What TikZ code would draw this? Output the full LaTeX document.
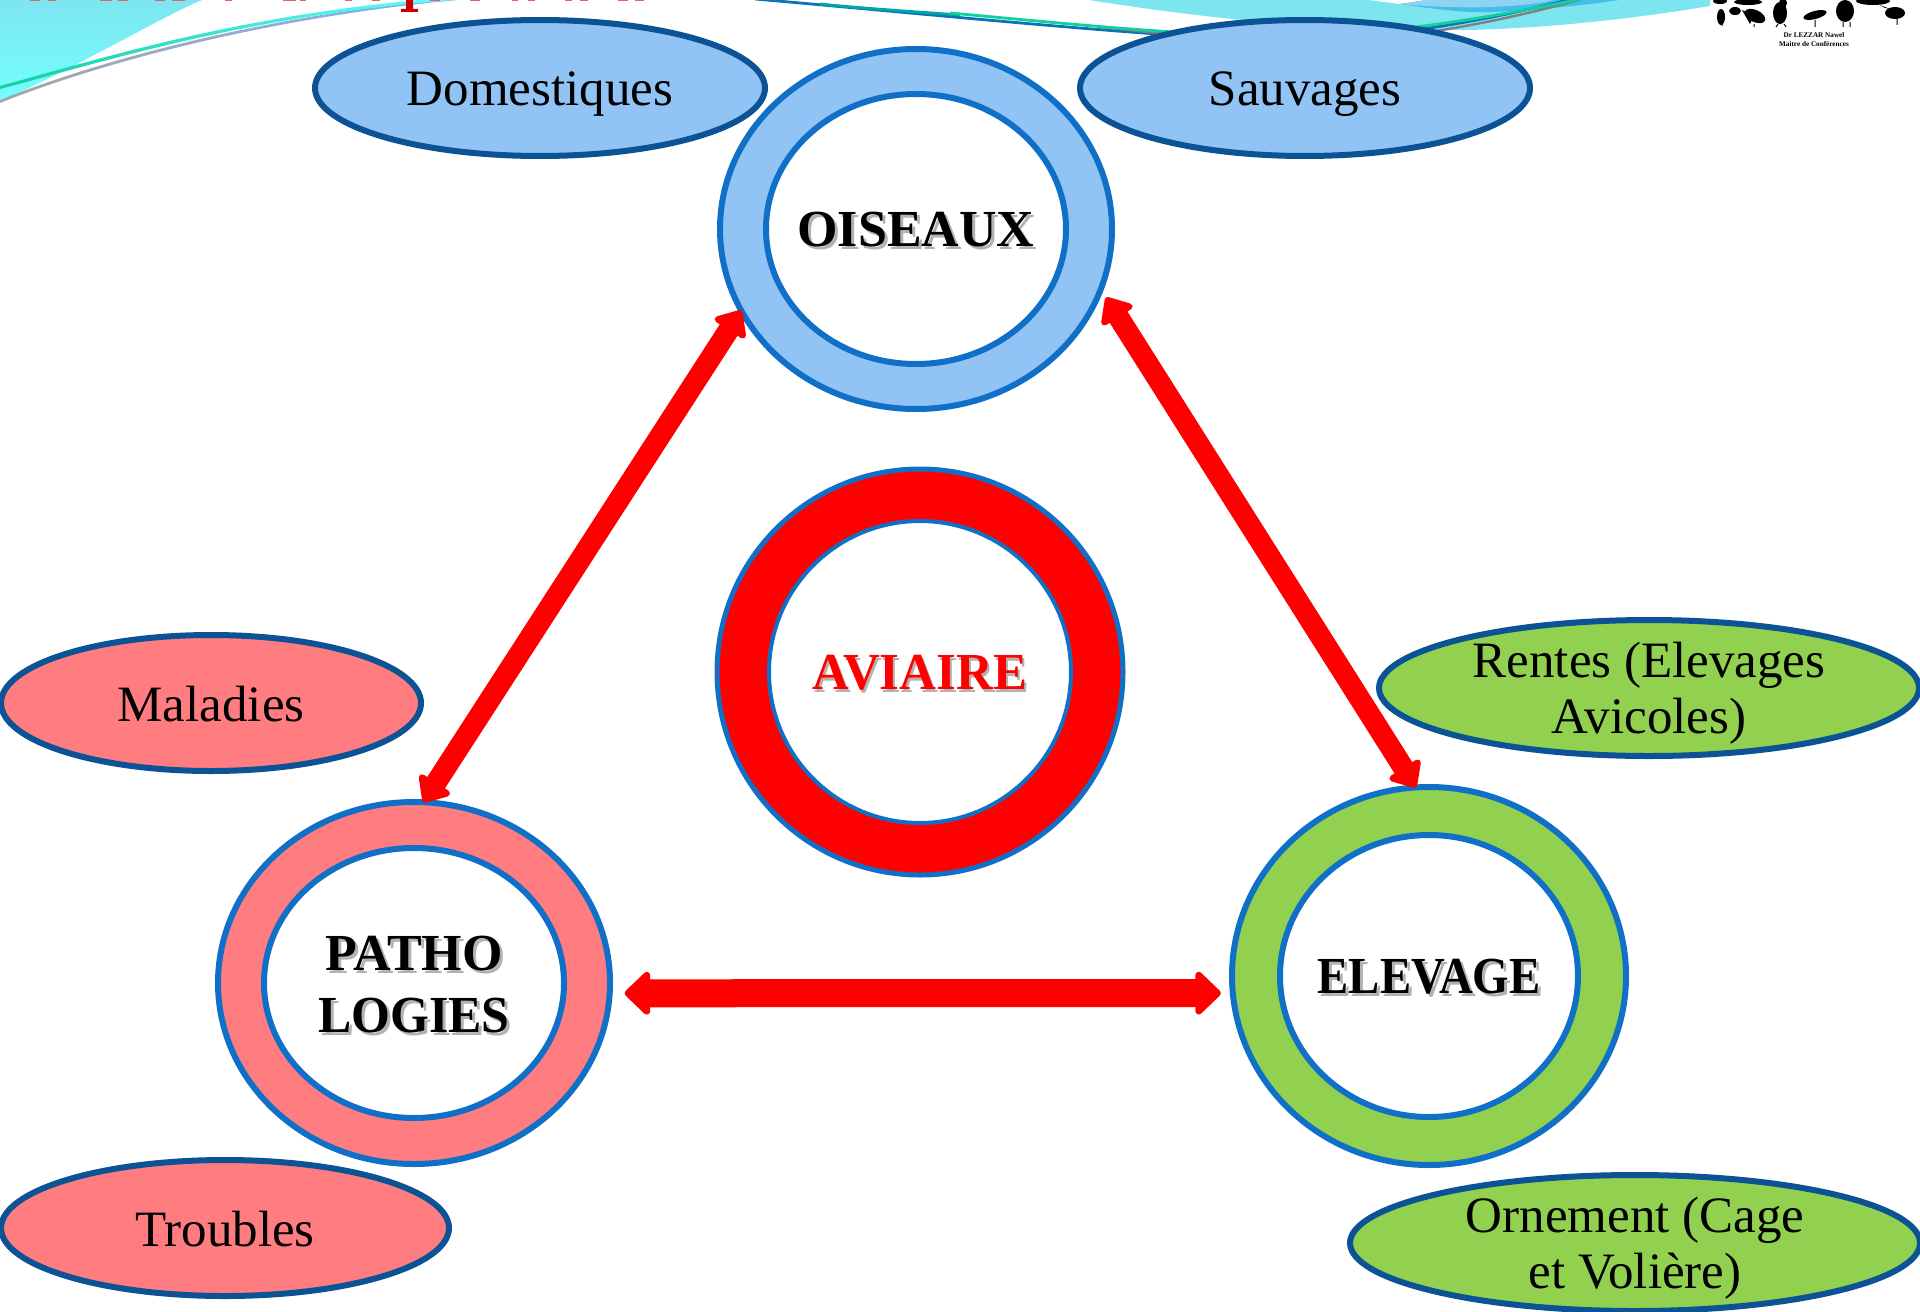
\documentclass[tikz,border=0pt]{standalone}
\usepackage{graphicx}
\usepackage{fontspec}
\setmainfont{Liberation Serif}
\usetikzlibrary{shapes.geometric,arrows.meta}
\definecolor{ringblue}{HTML}{1070C8}
\definecolor{edgeblue}{HTML}{0B5394}
\definecolor{skyfill}{HTML}{91C4F5}
\definecolor{pinkfill}{HTML}{FF7C80}
\definecolor{greenfill}{HTML}{92D050}
\definecolor{bandcyan}{HTML}{7DE5EF}
\definecolor{bandblue}{HTML}{45BDE8}
\definecolor{bandsky}{HTML}{8DD3F2}
\definecolor{wave}{HTML}{10D0A0}
\definecolor{titlered}{HTML}{CC0000}
\tikzset{
  ring/.style={ellipse,draw=ringblue,line width=3pt,inner sep=0pt,outer sep=0pt},
  inner ring/.style={ring,fill=white},
  topic/.style={ellipse,draw=edgeblue,line width=3pt,inner sep=0pt,outer sep=0pt},
  word/.style={font=\fontsize{25.5}{28}\selectfont,align=center,inner sep=0pt,text=black},
  head/.style={font=\fontsize{26}{31}\selectfont\bfseries,align=center,inner sep=0pt},
  shadow/.style={head,text=black!30},
  dbl/.style={draw=red,line width=#1,line cap=butt},
  thin tips/.style={{Triangle[length=12.5pt,width=21pt,round]}-{Triangle[length=12.5pt,width=21pt,round]}},
  wide tips/.style={{Triangle[length=13.5pt,width=25pt,round]}-{Triangle[length=13.5pt,width=25pt,round]}}
}
\begin{document}
\begin{tikzpicture}[x=0.5pt,y=-0.5pt]
\useasboundingbox (0,0) rectangle (1920,1311);
\begin{scope}
\clip (0,0) rectangle (1920,1311);
% top decoration
\shade[top color=bandcyan,bottom color=cyan!55!white] (0,100) -- (0,-2) -- (207,-2) .. controls (170,12) and (100,55) .. (12,96) -- cycle;
\fill[bandcyan] (1076,-2) .. controls (1200,18) and (1330,32) .. (1467,30) .. controls (1560,28) and (1650,16) .. (1710,6) -- (1710,-2) -- cycle;
\fill[white] (1353,-2) -- (1400,4) -- (1480,-2) -- cycle;
\fill[bandblue] (1400,4) .. controls (1440,10) and (1470,13) .. (1490,12) .. controls (1530,11) and (1590,5) .. (1632,-2) -- (1440,-2) -- cycle;
\fill[bandsky] (1400,4) .. controls (1430,7) and (1470,8) .. (1490,7) .. controls (1520,6) and (1545,3) .. (1562,-2) -- (1440,-2) -- cycle;
\shade[left color=gray!70,middle color=teal!70!cyan,right color=cyan!40!blue!50] (0,100) .. controls (120,52) and (300,10) .. (470,-3) -- (470,-1) .. controls (300,13) and (120,55) .. (0,103) -- cycle;
\shade[left color=wave,middle color=teal!60!cyan,right color=cyan!60!white] (0,86) .. controls (110,56) and (250,12) .. (455,-3) -- (455,0) .. controls (250,15) and (110,60) .. (0,89) -- cycle;
\draw[ringblue!80!teal,line width=1.4pt] (755,-1) .. controls (950,16) and (1200,42) .. (1300,40) .. controls (1390,38) and (1490,20) .. (1580,-3);
\draw[gray,line width=1.2pt] (1100,27) .. controls (1200,38) and (1270,41) .. (1320,41) .. controls (1400,41) and (1500,22) .. (1582,-1);
\draw[teal!70!cyan,line width=1.4pt] (820,4) .. controls (860,8) and (890,10) .. (960,15);
\draw[wave,line width=1.4pt] (950,13) .. controls (1040,21) and (1200,38) .. (1300,36) .. controls (1390,34) and (1490,18) .. (1590,-3);
% cropped title remains
\fill[titlered] (406,0) rectangle (413,10) (401,9) rectangle (418,12);
\foreach \a/\b in {30/40,48/56,100/112,118/128,155/165,172/185,225/232,283/296,300/306,345/352,372/380,430/440,470/480,512/518,528/535,565/572,580/588,618/628,635/644}{
  \fill[titlered!60] (\a,0) rectangle (\b,1.3);}
% logo
\fill[white] (1712,0) rectangle (1905,30);
\begin{scope}[black]
\fill (1721,17) ellipse [x radius=4,y radius=8];
\fill (1735,11) ellipse [x radius=6,y radius=4];
\fill[rotate around={-25:(1755,16)}] (1755,16) ellipse [x radius=11,y radius=6];
\fill (1754,16) -- (1742,10) -- (1750,24) -- cycle;
\fill (1780,13) ellipse [x radius=7,y radius=11];
\fill (1783,3) ellipse [x radius=4,y radius=5];
\fill[rotate around={15:(1815,15)}] (1815,15) ellipse [x radius=12,y radius=4];
\fill (1845,11) ellipse [x radius=9,y radius=11];
\fill (1895,13) ellipse [x radius=10,y radius=6];
\fill (1885,8) -- (1880,5) -- (1890,9) -- cycle;
\fill (1720,1) ellipse [x radius=7,y radius=3];
\fill (1748,2) ellipse [x radius=14,y radius=3];
\fill (1873,1) ellipse [x radius=17,y radius=4];
\draw[line width=.5pt] (1722,24)--(1722,26) (1754,24)--(1754,27) (1778,24)--(1776,27) (1784,24)--(1786,27) (1815,20)--(1815,27) (1843,22)--(1843,27) (1850,22)--(1850,27) (1897,19)--(1897,25);
\end{scope}
\node[font=\fontsize{3.6}{4.2}\selectfont\bfseries,align=center,inner sep=0pt] (logotext) at (1814,39.5) {Dr LEZZAR Nawel\\Maitre de Conférences};
% outer topic ellipses
\node[topic,fill=skyfill,minimum width=225pt,minimum height=68pt] (dom) at (540,88) {};
\node[topic,fill=skyfill,minimum width=225pt,minimum height=68pt] (sau) at (1305,88) {};
\node[topic,fill=pinkfill,minimum width=210pt,minimum height=68pt] (mal) at (211,703) {};
\node[topic,fill=pinkfill,minimum width=224pt,minimum height=68pt] (tro) at (225,1228) {};
\node[topic,fill=greenfill,minimum width=270pt,minimum height=68pt] (ren) at (1649,688) {};
\node[topic,fill=greenfill,minimum width=285pt,minimum height=68pt] (orn) at (1635,1243) {};
\node[word] (tdom) at (540,94) {Domestiques};
\node[word] (tsau) at (1305,94) {Sauvages};
\node[word] (tmal) at (211,704) {Maladies};
\node[word] (ttro) at (225,1229) {Troubles};
\node[word] (tren) at (1649,693) {Rentes (Elevages\\Avicoles)};
\node[word] (torn) at (1635,1248) {Ornement (Cage\\et Volière)};
% rings
\node[ring,fill=skyfill,minimum width=196pt,minimum height=180pt] (oi) at (916,229) {};
\node[inner ring,minimum width=150pt,minimum height=135pt] (oii) at (916,229) {};
\node[ring,fill=red,minimum width=203pt,minimum height=203pt,line width=2.5pt] (av) at (920,672) {};
\node[inner ring,minimum width=151pt,minimum height=151pt,line width=2pt] (avi) at (920,672) {};
\node[ring,fill=pinkfill,minimum width=196pt,minimum height=181pt] (pa) at (414,983) {};
\node[inner ring,minimum width=150pt,minimum height=135pt] (pai) at (414,983) {};
\node[ring,fill=greenfill,minimum width=197pt,minimum height=189pt] (el) at (1429,976) {};
\node[inner ring,minimum width=149pt,minimum height=141pt] (eli) at (1429,976) {};
% labels with soft shadows
\node[shadow] (soi) at (919,233) {OISEAUX};
\node[head] (toi) at (916,230) {OISEAUX};
\node[shadow] (sav) at (922,676) {\scalebox{.98}[1]{AVIAIRE}};
\node[head,text=red] (tav) at (920,673) {\scalebox{.98}[1]{AVIAIRE}};
\node[shadow] (spa) at (417,988) {PATHO\\\scalebox{.96}[1]{LOGIES}};
\node[head] (tpa) at (414,985) {PATHO\\\scalebox{.96}[1]{LOGIES}};
\node[shadow] (sel) at (1432,980) {\scalebox{.9}[1]{ELEVAGE}};
\node[head] (tel) at (1429,977) {\scalebox{.9}[1]{ELEVAGE}};
% arrows
\draw[dbl=10.5pt,thin tips] (oi.205.5) -- (pa.87);
\draw[dbl=10.5pt,thin tips,shorten <=5pt] (oi.-18.8) -- (el.94);
\draw[dbl=14pt,wide tips,shorten <=7.5pt,shorten >=6pt] (pa.-3) -- (el.185);
\end{scope}
\end{tikzpicture}
\end{document}
